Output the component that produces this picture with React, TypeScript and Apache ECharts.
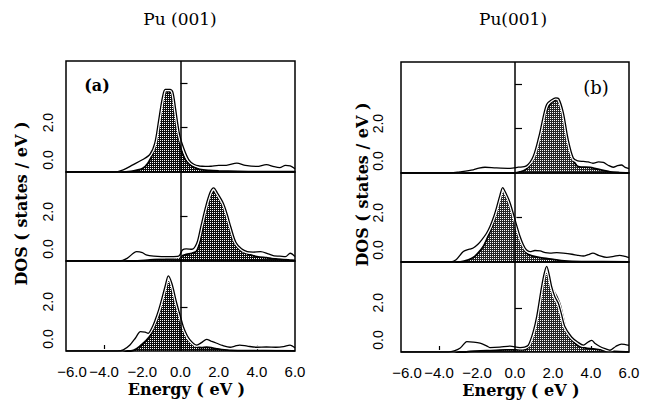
import React, { useEffect, useRef } from 'react';
import * as echarts from 'echarts';

// ---------- tick values ----------
const xLabelValues = [-6, -4, -2, 0, 2, 4, 6];
const xTickValues = [-4, 4];
const yLabelValues = [0, 2];
const yTicksTop = [2, 4];
const yTicksOther = [2];
const yMaxTop = 5.0;
const yMaxMid = 4.02;
const yMaxBot = 4.07;

// ---------- (a) panel data: [energy eV, DOS states/eV] ----------
const aTopFilled = [[-6,0],[-3.2,0],[-2.6,0.03],[-2.0,0.15],[-1.7,0.4],[-1.45,0.85],[-1.25,1.6],[-1.1,2.5],[-0.95,3.3],[-0.8,3.6],[-0.6,3.62],[-0.45,3.5],[-0.3,2.8],[-0.15,1.9],[0,1.15],[0.2,0.65],[0.4,0.4],[0.7,0.22],[1.0,0.12],[1.5,0.07],[2.0,0.05],[3,0.03],[4,0.02],[6,0.02]];
const aTopOpen = [[-6,0],[-3.5,0],[-3.0,0.1],[-2.5,0.32],[-2.0,0.55],[-1.6,0.8],[-1.35,1.3],[-1.15,2.3],[-0.95,3.35],[-0.8,3.72],[-0.55,3.72],[-0.4,3.6],[-0.25,2.8],[-0.05,1.7],[0.18,1.05],[0.44,0.55],[0.7,0.35],[1.0,0.27],[1.3,0.25],[1.6,0.26],[2.0,0.3],[2.4,0.3],[2.95,0.4],[3.4,0.3],[4.0,0.25],[4.5,0.33],[4.9,0.24],[5.2,0.2],[5.5,0.3],[5.75,0.28],[6,0.15]];
const aMidFilled = [[-6,0],[-2.5,0],[-1.6,0.05],[-0.8,0.1],[-0.2,0.15],[0,0.2],[0.3,0.3],[0.6,0.35],[0.85,0.45],[1.05,1.0],[1.25,1.9],[1.5,2.8],[1.72,3.15],[1.95,2.95],[2.2,2.55],[2.45,2.05],[2.7,1.1],[2.95,0.65],[3.2,0.45],[3.6,0.3],[4.0,0.2],[4.5,0.15],[5.0,0.1],[5.7,0.05],[6,0.03]];
const aMidOpen = [[-6,0],[-3.2,0],[-2.8,0.12],[-2.3,0.42],[-2.0,0.38],[-1.8,0.28],[-1.4,0.22],[-1.0,0.2],[-0.5,0.2],[-0.1,0.22],[0.1,0.5],[0.3,0.55],[0.6,0.53],[0.85,0.8],[1.05,1.5],[1.3,2.4],[1.55,3.1],[1.74,3.3],[1.95,3.05],[2.25,2.6],[2.45,2.1],[2.65,1.5],[2.9,0.85],[3.2,0.55],[3.5,0.42],[3.8,0.4],[4.2,0.42],[4.6,0.32],[4.9,0.23],[5.2,0.22],[5.5,0.2],[5.75,0.35],[6,0.2]];
const aBotFilled = [[-6,0],[-2.6,0],[-2.3,0.1],[-1.95,0.35],[-1.6,0.68],[-1.33,1.18],[-1.15,1.6],[-1.0,2.17],[-0.8,2.9],[-0.64,3.35],[-0.45,2.95],[-0.2,2.0],[0.0,1.5],[0.15,1.1],[0.35,0.72],[0.5,0.5],[0.7,0.3],[0.85,0.2],[1.1,0.15],[1.37,0.17],[1.6,0.15],[1.9,0.1],[2.3,0.05],[3,0.02],[6,0.01]];
const aBotOpen = [[-6,0],[-3.3,0],[-3.0,0.05],[-2.65,0.27],[-2.35,0.6],[-2.1,0.88],[-1.85,0.85],[-1.7,0.8],[-1.5,1.05],[-1.33,1.4],[-1.15,1.85],[-1.0,2.3],[-0.8,2.95],[-0.64,3.4],[-0.45,3.05],[-0.2,2.17],[0.0,1.55],[0.15,1.1],[0.35,0.7],[0.5,0.5],[0.7,0.33],[0.85,0.27],[1.1,0.38],[1.37,0.53],[1.6,0.45],[1.9,0.35],[2.2,0.25],[2.6,0.17],[2.85,0.22],[3.1,0.27],[3.5,0.22],[4.0,0.17],[4.5,0.18],[5.0,0.17],[5.4,0.2],[5.74,0.27],[6,0.15]];

// ---------- (b) panel data ----------
const bTopFilled = [[-6,0],[0,0],[0.26,0.05],[0.55,0.15],[0.79,0.36],[1.14,1.05],[1.49,2.4],[1.84,3.1],[2.19,3.3],[2.3,3.25],[2.46,2.88],[2.72,1.8],[2.98,0.82],[3.15,0.45],[3.33,0.29],[3.95,0.25],[4.3,0.18],[4.65,0.12],[5.0,0.05],[5.5,0.02],[6,0.01]];
const bTopOpen = [[-6,0],[-3.4,0],[-2.9,0.05],[-2.2,0.14],[-1.9,0.22],[-1.58,0.26],[-1.0,0.23],[-0.26,0.21],[0.17,0.26],[0.6,0.32],[0.96,0.75],[1.3,1.8],[1.5,2.6],[1.67,3.1],[1.93,3.3],[2.15,3.38],[2.3,3.35],[2.54,2.73],[2.8,1.5],[3.07,0.67],[3.3,0.55],[3.6,0.52],[3.85,0.5],[4.1,0.44],[4.4,0.5],[4.65,0.48],[4.9,0.35],[5.17,0.26],[5.4,0.33],[5.6,0.36],[5.8,0.25],[6,0.2]];
const bMidFilled = [[-6,0],[-3.0,0],[-2.73,0.03],[-2.45,0.1],[-2.2,0.2],[-1.95,0.4],[-1.67,0.7],[-1.4,1.2],[-1.14,1.77],[-0.88,2.68],[-0.65,3.3],[-0.5,3.1],[-0.26,2.5],[0.05,1.77],[0.26,1.15],[0.45,0.65],[0.6,0.4],[0.9,0.28],[1.32,0.2],[2.0,0.12],[2.6,0.05],[3.5,0.02],[6,0.01]];
const bMidOpen = [[-6,0],[-3.4,0],[-3.1,0.1],[-2.72,0.47],[-2.4,0.58],[-2.2,0.63],[-1.95,0.8],[-1.75,1.0],[-1.5,1.3],[-1.32,1.6],[-1.1,2.1],[-0.96,2.5],[-0.8,3.0],[-0.65,3.36],[-0.5,3.15],[-0.26,2.68],[0.05,1.77],[0.25,1.2],[0.44,0.78],[0.6,0.55],[0.79,0.47],[1.05,0.52],[1.32,0.5],[1.6,0.42],[1.84,0.4],[2.2,0.42],[2.54,0.4],[3.0,0.35],[3.3,0.3],[3.6,0.27],[3.85,0.33],[4.1,0.4],[4.4,0.3],[4.83,0.21],[5.2,0.25],[5.5,0.3],[5.8,0.25],[6,0.2]];
const bBotFilled = [[-6,0],[-2.6,0],[-2.37,0.03],[-1.5,0.06],[-0.5,0.1],[0.26,0.1],[0.6,0.12],[0.8,0.45],[0.96,1.0],[1.15,1.6],[1.32,2.37],[1.5,3.2],[1.67,3.76],[1.85,3.3],[2.0,2.83],[2.2,2.5],[2.37,2.15],[2.55,1.5],[2.72,0.92],[2.9,0.65],[3.07,0.47],[3.3,0.3],[3.6,0.2],[4.3,0.12],[5.0,0.05],[5.5,0.02],[6,0.01]];
const bBotOpen = [[-6,0],[-3.5,0],[-3.2,0.05],[-2.9,0.17],[-2.7,0.35],[-2.54,0.47],[-2.2,0.45],[-1.84,0.4],[-1.5,0.28],[-1.32,0.2],[-0.8,0.22],[-0.26,0.27],[0.26,0.2],[0.5,0.22],[0.7,0.31],[0.95,0.9],[1.14,1.6],[1.4,2.96],[1.55,3.6],[1.67,3.87],[1.8,3.5],[1.93,2.96],[2.1,2.5],[2.28,2.2],[2.45,1.7],[2.63,1.14],[2.98,0.68],[3.3,0.45],[3.6,0.31],[3.85,0.45],[4.04,0.53],[4.2,0.4],[4.47,0.25],[4.75,0.15],[5.0,0.08],[5.3,0.25],[5.6,0.36],[6,0.3]];

function makePattern(dark: string, size: number, dots: number[][]) {
  const c = document.createElement('canvas');
  c.width = size;
  c.height = size;
  const ctx = c.getContext('2d')!;
  ctx.fillStyle = dark;
  ctx.fillRect(0, 0, size, size);
  ctx.fillStyle = '#ffffff';
  dots.forEach(([x, y]) => ctx.fillRect(x, y, 1, 1));
  return c;
}

const SERIF = '"DejaVu Serif", serif';
const SANS = '"Liberation Sans", Arial, sans-serif';

export default function App() {
  const ref = useRef<HTMLDivElement>(null);

  useEffect(() => {
    if (!ref.current) return;
    const chart = echarts.init(ref.current, undefined, { renderer: 'svg' });

    const patLeft = makePattern('#0d0d0d', 2, [[0, 0]]);
    const patRight = makePattern('#262626', 2, [[0, 0]]);

    const cols = [
      { left: 66, width: 229, tops: [61, 172, 261], heights: [111, 89, 90], labelMargin: 11, nameGap: 37, namePad: 26, pat: patLeft,
        data: [[aTopFilled, aTopOpen], [aMidFilled, aMidOpen], [aBotFilled, aBotOpen]] },
      { left: 401, width: 228, tops: [62, 173, 262], heights: [111, 89, 90], labelMargin: 16, nameGap: 31, namePad: 66, pat: patRight,
        data: [[bTopFilled, bTopOpen], [bMidFilled, bMidOpen], [bBotFilled, bBotOpen]] },
    ];
    const yMaxes = [yMaxTop, yMaxMid, yMaxBot];

    const grid: any[] = [];
    const xAxis: any[] = [];
    const yAxis: any[] = [];
    const series: any[] = [];

    cols.forEach((col, c) => {
      for (let r = 0; r < 3; r++) {
        const idx = c * 3 + r;
        const isBottom = r === 2;
        grid.push({
          left: col.left, top: col.tops[r], width: col.width, height: col.heights[r],
          show: true, borderColor: '#000', borderWidth: 1.5, backgroundColor: 'transparent', z: 5,
        });
        xAxis.push({
          type: 'value', gridIndex: idx, min: -6, max: 6,
          axisLine: { show: false }, splitLine: { show: false },
          axisTick: isBottom
            ? { show: true, inside: true, length: 6, customValues: xTickValues, lineStyle: { color: '#000', width: 1.2 } }
            : { show: false },
          axisLabel: isBottom
            ? {
                show: true, customValues: xLabelValues, margin: 13, color: '#000',
                fontFamily: SANS, fontSize: 15,
                formatter: (v: number) => {
                  const s = (v < 0 ? '\u2212' : '') + Math.abs(v).toFixed(1);
                  return v === -6 ? '{s|' + s + '}' : s;
                },
                rich: { s: { padding: [0, 0, 0, 12], fontFamily: SANS, fontSize: 15, color: '#000' } },
              }
            : { show: false },
          name: isBottom ? 'Energy ( eV )' : '',
          nameLocation: 'middle', nameGap: 30,
          nameTextStyle: { fontFamily: SERIF, fontWeight: 'bold', fontSize: 16, color: '#000', padding: [0, 0, 0, 12] },
        });
        yAxis.push({
          type: 'value', gridIndex: idx, min: 0, max: yMaxes[r],
          axisLine: { show: false }, splitLine: { show: false },
          axisTick: { show: true, inside: true, length: 7, customValues: r === 0 ? yTicksTop : yTicksOther, lineStyle: { color: '#000', width: 1.2 } },
          axisLabel: {
            show: true, customValues: yLabelValues, rotate: 90, margin: col.labelMargin, color: '#000',
            fontFamily: SANS, fontSize: 14,
            formatter: (v: number) => (v === 0 ? '{z|' + v.toFixed(1) + '}' : '{t|' + v.toFixed(1) + '}'),
            rich: {
              z: { padding: [0, 0, 0, 24], fontFamily: SANS, fontSize: 14, color: '#000' },
              t: { padding: [0, 0, 0, 10], fontFamily: SANS, fontSize: 14, color: '#000' },
            },
          },
          name: r === 1 ? 'DOS ( states / eV )' : '',
          nameLocation: 'middle', nameRotate: 90, nameGap: col.nameGap,
          nameTextStyle: { fontFamily: SERIF, fontWeight: 'bold', fontSize: 16, color: '#000', padding: [0, 0, 0, col.namePad] },
        });

        const [filled, open] = col.data[r];
        series.push({
          type: 'line', xAxisIndex: idx, yAxisIndex: idx, data: filled, smooth: 0.3, symbol: 'none',
          lineStyle: { color: '#000', width: 1.8 },
          areaStyle: { color: { image: col.pat, repeat: 'repeat' }, opacity: 1 },
          z: 2,
        });
        series.push({
          type: 'line', xAxisIndex: idx, yAxisIndex: idx, data: open, smooth: 0.3, symbol: 'none',
          lineStyle: { color: '#fff', width: 3.8 }, z: 3,
        });
        series.push({
          type: 'line', xAxisIndex: idx, yAxisIndex: idx, data: open, smooth: 0.3, symbol: 'none',
          lineStyle: { color: '#000', width: 1.3 }, z: 4,
          markLine: {
            silent: true, symbol: ['none', 'none'], label: { show: false },
            lineStyle: { color: '#000', width: 1.5, type: 'solid' },
            data: [{ xAxis: 0 }],
          },
        });
      }
    });

    chart.setOption({
      animation: false,
      backgroundColor: '#fff',
      grid, xAxis, yAxis, series,
      graphic: [
        { type: 'text', x: 180, y: 19, style: { text: 'Pu (001)', font: '17px ' + SERIF, fill: '#000', align: 'center', verticalAlign: 'middle' } },
        { type: 'text', x: 513, y: 19, style: { text: 'Pu(001)', font: '17px ' + SERIF, fill: '#000', align: 'center', verticalAlign: 'middle' } },
        { type: 'text', x: 97, y: 85, style: { text: '(a)', font: 'bold 16px ' + SERIF, fill: '#000', align: 'center', verticalAlign: 'middle' } },
        { type: 'text', x: 596, y: 87, style: { text: '(b)', font: '18px ' + SERIF, fill: '#000', align: 'center', verticalAlign: 'middle' } },
      ],
    });

    return () => chart.dispose();
  }, []);

  return <div ref={ref} style={{ position: 'absolute', left: 0, top: 0, width: 646, height: 406 }} />;
}
